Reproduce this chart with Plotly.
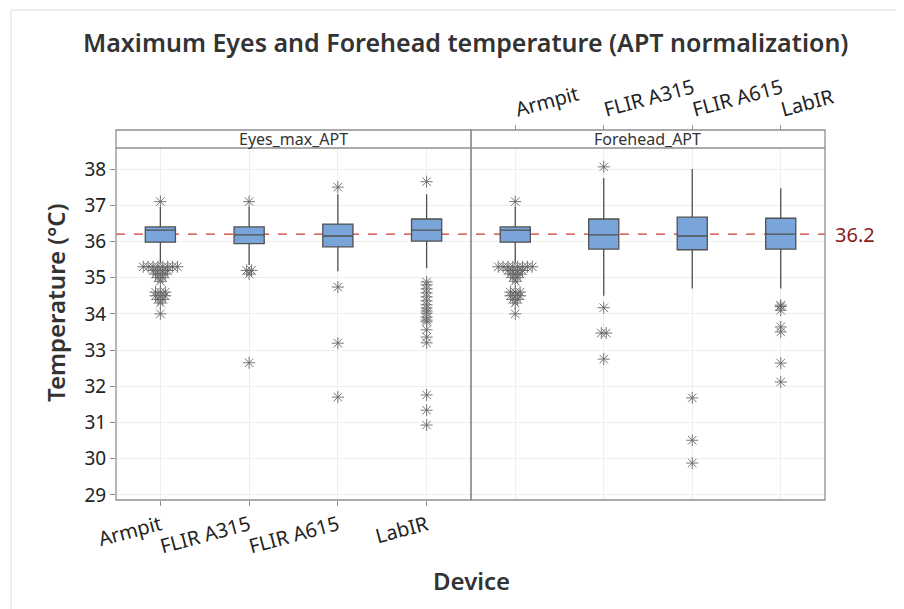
import plotly.graph_objects as go
from collections import Counter

devices = ["Armpit", "FLIR A315", "FLIR A615", "LabIR"]
panels = ["Eyes_max_APT", "Forehead_APT"]

# Box statistics per panel (order of devices)
eyes_q1 = [35.98, 35.94, 35.85, 36.01]
eyes_median = [36.31, 36.18, 36.15, 36.31]
eyes_q3 = [36.40, 36.40, 36.48, 36.62]
eyes_lower = [35.40, 35.35, 35.18, 35.26]
eyes_upper = [36.95, 36.95, 37.30, 37.30]

fore_q1 = [35.98, 35.79, 35.77, 35.79]
fore_median = [36.31, 36.18, 36.15, 36.20]
fore_q3 = [36.40, 36.62, 36.67, 36.64]
fore_lower = [35.40, 34.50, 34.70, 34.70]
fore_upper = [36.95, 37.75, 38.00, 37.47]

armpit_outliers = [37.1] + [35.3] * 8 + [35.2] * 4 + [35.1] * 3 + [35.0] * 2 + [34.9] \
    + [34.6] * 3 + [34.5] * 3 + [34.4] * 2 + [34.3] + [34.0]

eyes_outliers = [
    armpit_outliers,
    [37.1, 35.2, 35.2, 35.1, 32.65],
    [37.5, 34.74, 33.19, 31.7],
    [37.65, 34.88, 34.80, 34.69, 34.58, 34.47, 34.36, 34.25, 34.16, 34.08, 34.02,
     33.91, 33.83, 33.78, 33.56, 33.36, 33.20, 31.76, 31.34, 30.93],
]
fore_outliers = [
    armpit_outliers,
    [38.06, 34.17, 33.47, 33.47, 32.75],
    [31.68, 30.51, 29.88],
    [34.24, 34.2, 34.1, 33.64, 33.5, 32.64, 32.12],
]

reference_value = 36.2
y_ticks = list(range(29, 39))

BOX_FILL = "#7aa5db"
BOX_LINE = "#505050"
GRID = "#eeeeee"
FRAME = "#8f8f8f"
FONT = "Noto Sans"
TEXT = "#222222"
MARK = "#666666"

fig = go.Figure()


def spread(values, step=0.055):
    cnt = Counter(values)
    seen = Counter()
    xs, ys = [], []
    for v in values:
        n = cnt[v]
        i = seen[v]
        seen[v] += 1
        xs.append((i - (n - 1) / 2) * step)
        ys.append(v)
    return xs, ys


stats = [
    (eyes_q1, eyes_median, eyes_q3, eyes_lower, eyes_upper, eyes_outliers, "x", "y"),
    (fore_q1, fore_median, fore_q3, fore_lower, fore_upper, fore_outliers, "x2", "y2"),
]
for q1, med, q3, lo, up, outs, xa, ya in stats:
    for i in range(len(devices)):
        fig.add_trace(go.Box(
            x=[i], q1=[q1[i]], median=[med[i]], q3=[q3[i]],
            lowerfence=[lo[i]], upperfence=[up[i]],
            width=0.34, whiskerwidth=0, boxpoints=False,
            fillcolor=BOX_FILL, line=dict(color=BOX_LINE, width=1.3),
            xaxis=xa, yaxis=ya, showlegend=False, hoverinfo="skip",
        ))
        dx, vy = spread(outs[i])
        fig.add_trace(go.Scatter(
            x=[i + d for d in dx], y=vy, mode="markers",
            marker=dict(symbol="asterisk-open", size=10, color=MARK,
                        line=dict(color=MARK, width=0.9)),
            xaxis=xa, yaxis=ya, showlegend=False, hoverinfo="skip",
        ))

# invisible trace so the top axis of the right panel is drawn
fig.add_trace(go.Scatter(x=[0], y=[36], mode="markers", marker=dict(opacity=0),
                         xaxis="x3", yaxis="y2", showlegend=False, hoverinfo="skip"))

ydom_top = 352 / 370
split = 0.5007
xr = [-0.5, 3.5]
yr = [28.86, 38.58]

common_x = dict(range=xr, tickmode="array", tickvals=list(range(4)),
                showgrid=True, gridcolor=GRID, zeroline=False,
                ticks="outside", ticklen=5, tickcolor=FRAME, tickangle=-15,
                tickfont=dict(family=FONT, size=20, color=TEXT))

fig.update_layout(
    width=896, height=601,
    margin=dict(l=108, r=79, t=122, b=109),
    paper_bgcolor="white", plot_bgcolor="white",
    font=dict(family=FONT, color=TEXT),
    xaxis=dict(domain=[0, split], anchor="y", ticktext=devices, **common_x),
    xaxis2=dict(domain=[split, 1], anchor="y2", showticklabels=False,
                **{k: v for k, v in common_x.items() if k != "ticks"}, ticks=""),
    xaxis3=dict(domain=[split, 1], anchor="free", position=1, overlaying="x2",
                side="top", ticktext=devices,
                **{k: v for k, v in common_x.items() if k != "showgrid"},
                showgrid=False),
    yaxis=dict(domain=[0, ydom_top], range=yr, tickmode="array", tickvals=y_ticks,
               showgrid=True, gridcolor=GRID, zeroline=False,
               ticks="outside", ticklen=5, tickcolor=FRAME,
               tickfont=dict(family=FONT, size=19, color=TEXT)),
    yaxis2=dict(domain=[0, ydom_top], range=yr, matches="y", anchor="x2",
                showticklabels=False, showgrid=True, gridcolor=GRID, zeroline=False,
                tickmode="array", tickvals=y_ticks),
)

shapes = [
    # outer figure frame
    dict(type="rect", xref="paper", yref="paper", x0=(3 - 108) / 709, x1=1.5,
         y0=-1, y1=(492 - 2) / 370, line=dict(color="#dcdcdc", width=1)),
    # panels
    dict(type="rect", xref="paper", yref="paper", x0=0, x1=split, y0=0, y1=1,
         line=dict(color=FRAME, width=1.3)),
    dict(type="rect", xref="paper", yref="paper", x0=split, x1=1, y0=0, y1=1,
         line=dict(color=FRAME, width=1.3)),
    dict(type="line", xref="paper", yref="paper", x0=0, x1=1, y0=ydom_top, y1=ydom_top,
         line=dict(color=FRAME, width=1.3)),
    # reference line
    dict(type="line", xref="paper", yref="y", x0=0, x1=1, layer="between",
         y0=reference_value, y1=reference_value,
         line=dict(color="#d03a30", width=1.3, dash="dash")),
]
fig.update_layout(shapes=shapes)

strip_mid = (ydom_top + 1) / 2
C = dict(xanchor="center", yanchor="middle", showarrow=False)
annotations = [
    dict(text=panels[0], xref="paper", yref="paper", x=split / 2, y=strip_mid,
         font=dict(family=FONT, size=16, color="#333333"), **C),
    dict(text=panels[1], xref="paper", yref="paper", x=(split + 1) / 2, y=strip_mid,
         font=dict(family=FONT, size=16, color="#333333"), **C),
    dict(text=str(reference_value), xref="paper", yref="y", x=1, y=reference_value,
         xanchor="left", yanchor="middle", xshift=8, showarrow=False,
         font=dict(family=FONT, size=20, color="#8b1a1a")),
    dict(text="Temperature (°C)", xref="paper", yref="paper", x=(47 - 108) / 709,
         y=(492 - 295) / 370, textangle=-90,
         font=dict(family=FONT, size=24, color="#333333", weight=600), **C),
    dict(text="Device", xref="paper", yref="paper", x=(463 - 108) / 709,
         y=(492 - 572) / 370,
         font=dict(family=FONT, size=24, color="#333333", weight=600), **C),
    dict(text="Maximum Eyes and Forehead temperature (APT normalization)",
         xref="paper", yref="paper", x=(457 - 108) / 709, y=(492 - 34) / 370,
         font=dict(family=FONT, size=25, color="#333333", weight=600), **C),
]
fig.update_layout(annotations=annotations)

fig.write_html("out.html")
